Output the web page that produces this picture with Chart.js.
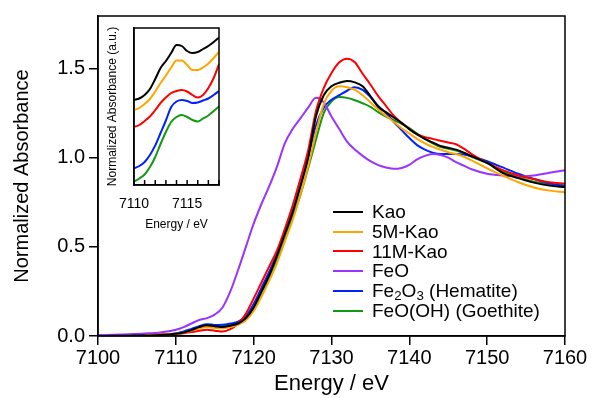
<!DOCTYPE html>
<html>
<head>
<meta charset="utf-8">
<script src="https://cdn.jsdelivr.net/npm/chart.js@4.4.0/dist/chart.umd.min.js"></script>
<style>
  body { margin: 0; background: #fff; }
  #wrap { position: relative; width: 592px; height: 398px; overflow: hidden; font-family: 'Liberation Sans', Arial, sans-serif; }
  #main { position: absolute; left: 0; top: 0; }
  #inset { position: absolute; left: 100px; top: 20px; }
  #legend { position: absolute; left: 333px; top: 202px; font-size: 19px; color: #000; }
  .row { display: flex; align-items: center; white-space: nowrap; height: 19.8px; }
  .swatch { width: 30px; height: 2px; margin-right: 9px; }
  sub { font-size: 0.7em; vertical-align: -0.25em; line-height: 0; }
</style>
</head>
<body>
<div id="wrap">
  <canvas id="main" width="592" height="398"></canvas>
  <canvas id="inset" width="130" height="220"></canvas>
  <div id="legend"></div>
</div>
<script>
// main chart data (normalized absorbance vs energy / eV)
const energy = [7100, 7102, 7104, 7106, 7108,
  7110, 7111, 7112, 7113, 7114, 7115, 7116, 7117, 7118, 7119,
  7120, 7121, 7122, 7123, 7124, 7125, 7126, 7127, 7128, 7129,
  7130, 7131, 7132, 7133, 7134, 7135, 7136, 7137, 7138, 7139,
  7140, 7141, 7142, 7143, 7144, 7145, 7146, 7147, 7148,
  7150, 7152, 7154, 7156, 7158, 7160];

const kao = [0.0, 0.001, 0.002, 0.003, 0.005,
  0.012, 0.02, 0.033, 0.05, 0.06, 0.055, 0.05, 0.058, 0.07, 0.10,
  0.16, 0.25, 0.34, 0.45, 0.57, 0.69, 0.84, 1.00, 1.23, 1.35,
  1.40, 1.42, 1.43, 1.422, 1.40, 1.345, 1.285, 1.255, 1.225, 1.195,
  1.16, 1.13, 1.105, 1.085, 1.065, 1.055, 1.045, 1.028, 1.008,
  0.97, 0.915, 0.885, 0.86, 0.843, 0.835];

const kao5M = [null, null, null, 0.004, 0.007,
  0.012, 0.02, 0.03, 0.042, 0.05, 0.045, 0.043, 0.05, 0.062, 0.088,
  0.14, 0.22, 0.31, 0.41, 0.53, 0.65, 0.79, 0.95, 1.14, 1.30,
  1.375, 1.40, 1.395, 1.38, 1.35, 1.31, 1.27, 1.235, 1.20, 1.165,
  1.135, 1.105, 1.08, 1.06, 1.045, 1.03, 1.02, 1.005, 0.985,
  0.94, 0.90, 0.862, 0.833, 0.815, 0.805];

const kao11M = [null, null, null, 0.005, 0.008,
  0.012, 0.016, 0.022, 0.03, 0.035, 0.03, 0.025, 0.038, 0.07, 0.125,
  0.21, 0.30, 0.39, 0.48, 0.60, 0.73, 0.88, 1.04, 1.26, 1.39,
  1.475, 1.535, 1.555, 1.535, 1.47, 1.41, 1.345, 1.29, 1.235, 1.195,
  1.16, 1.13, 1.115, 1.105, 1.095, 1.085, 1.075, 1.05, 1.02,
  0.97, 0.93, 0.90, 0.88, 0.862, 0.855];

const feo = [0.005, 0.007, 0.01, 0.014, 0.02,
  0.035, 0.05, 0.07, 0.09, 0.10, 0.12, 0.16, 0.25, 0.37, 0.50,
  0.63, 0.74, 0.84, 0.95, 1.08, 1.16, 1.22, 1.28, 1.335, 1.31,
  1.23, 1.16, 1.09, 1.045, 1.01, 0.98, 0.958, 0.945, 0.937, 0.942,
  0.96, 0.99, 1.01, 1.02, 1.015, 1.0, 0.975, 0.955, 0.935,
  0.91, 0.90, 0.895, 0.90, 0.915, 0.93];

const hematite = [0.0, 0.002, 0.003, 0.005, 0.007,
  0.014, 0.025, 0.04, 0.055, 0.066, 0.062, 0.063, 0.07, 0.08, 0.11,
  0.18, 0.27, 0.36, 0.46, 0.58, 0.70, 0.84, 1.00, 1.18, 1.28,
  1.325, 1.35, 1.375, 1.395, 1.38, 1.34, 1.29, 1.25, 1.20, 1.155,
  1.11, 1.07, 1.045, 1.028, 1.02, 1.02, 1.02, 1.017, 1.008,
  0.98, 0.945, 0.91, 0.88, 0.855, 0.84];

const goethite = [0.0, 0.001, 0.002, 0.004, 0.006,
  0.012, 0.022, 0.036, 0.05, 0.06, 0.056, 0.055, 0.063, 0.074, 0.10,
  0.155, 0.235, 0.325, 0.425, 0.54, 0.66, 0.79, 0.94, 1.10, 1.25,
  1.315, 1.34, 1.335, 1.322, 1.305, 1.285, 1.255, 1.23, 1.21, 1.19,
  1.165, 1.135, 1.105, 1.08, 1.06, 1.05, 1.04, 1.025, 1.005,
  0.97, 0.925, 0.89, 0.865, 0.85, 0.845];

const xTicks = [7100, 7110, 7120, 7130, 7140, 7150, 7160];
const yTicks = [0, 0.5, 1.0, 1.5];

// inset: pre-edge region, curves offset (a.u.)
const insetEnergy = [7110, 7110.5, 7111, 7111.5, 7112, 7112.5, 7113, 7113.5, 7114,
  7114.5, 7115, 7115.5, 7116, 7116.5, 7117, 7117.5, 7118];
const insetKao = [0.83, 0.845, 0.88, 0.94, 1.04, 1.15, 1.22, 1.30, 1.38, 1.37, 1.32, 1.30, 1.31, 1.34, 1.37, 1.41, 1.455];
const inset5M = [0.73, 0.75, 0.79, 0.84, 0.915, 1.00, 1.075, 1.155, 1.225, 1.225, 1.18, 1.13, 1.13, 1.155, 1.195, 1.25, 1.31];
const inset11M = [0.56, 0.58, 0.62, 0.665, 0.73, 0.80, 0.855, 0.90, 0.92, 0.93, 0.915, 0.88, 0.855, 0.88, 0.95, 1.05, 1.19];
const insetHematite = [0.147, 0.17, 0.21, 0.28, 0.376, 0.50, 0.625, 0.76, 0.815, 0.83, 0.82, 0.80, 0.805, 0.825, 0.845, 0.88, 0.92];
const insetGoethite = [0.013, 0.045, 0.085, 0.16, 0.26, 0.39, 0.51, 0.61, 0.66, 0.68, 0.66, 0.63, 0.615, 0.645, 0.675, 0.72, 0.765];
const insetTicks = [7110, 7111, 7112, 7113, 7114, 7115, 7116, 7117, 7118];
const insetTickLabels = [7110, 7115];

const names = ['Kao', '5M-Kao', '11M-Kao', 'FeO', 'Fe2O3 (Hematite)', 'FeO(OH) (Goethite)'];
const colors = ['#000000', '#FFA500', '#FF0000', '#9933FF', '#0022FF', '#119911'];

const FONT = "'Liberation Sans', Arial, sans-serif";

function pts(xs, ys) {
  return xs.map((x, i) => ({ x: x, y: ys[i] }));
}

// box round the plot area
const frame = {
  id: 'frame',
  afterDatasetsDraw(chart) {
    const a = chart.chartArea, ctx = chart.ctx;
    ctx.save();
    ctx.strokeStyle = '#000';
    ctx.lineWidth = 1.5;
    ctx.strokeRect(a.left, a.top, a.right - a.left, a.bottom - a.top);
    ctx.restore();
  }
};

// inset has its ticks pointing in
const innerTicks = {
  id: 'innerTicks',
  afterDraw(chart) {
    const s = chart.scales.x, a = chart.chartArea, ctx = chart.ctx;
    ctx.save();
    ctx.strokeStyle = '#000';
    ctx.lineWidth = 1.5;
    s.ticks.forEach(t => {
      const px = s.getPixelForValue(t.value);
      ctx.beginPath();
      ctx.moveTo(px, a.bottom);
      ctx.lineTo(px, a.bottom - 5);
      ctx.stroke();
    });
    ctx.restore();
  }
};

const mainSeries = [kao, kao5M, kao11M, feo, hematite, goethite];

new Chart(document.getElementById('main'), {
  type: 'line',
  data: {
    datasets: mainSeries.map((vals, i) => ({
      label: names[i],
      data: pts(energy, vals),
      borderColor: colors[i],
      borderWidth: 2,
      pointRadius: 0,
      cubicInterpolationMode: 'monotone',
      fill: false
    }))
  },
  options: {
    responsive: false,
    animation: false,
    layout: { padding: { top: 13, right: 27, left: 0, bottom: 0 } },
    plugins: { legend: { display: false }, tooltip: { enabled: false } },
    scales: {
      x: {
        type: 'linear',
        min: 7100,
        max: 7160,
        afterBuildTicks: s => { s.ticks = xTicks.map(v => ({ value: v })); },
        afterFit: s => { s.height = 62; },
        ticks: { color: '#000', font: { family: FONT, size: 20 }, padding: 1, maxRotation: 0, callback: v => String(v) },
        grid: { display: true, drawOnChartArea: false, drawTicks: true, tickLength: 9, color: '#000', lineWidth: 1.5 },
        border: { display: true, color: '#000', width: 1.5 },
        title: { display: true, text: 'Energy / eV', color: '#000', font: { family: FONT, size: 22 }, padding: { top: 0, bottom: 1 } }
      },
      y: {
        min: 0,
        max: 1.794,
        afterBuildTicks: s => { s.ticks = yTicks.map(v => ({ value: v })); },
        afterFit: s => { s.width = 98; },
        ticks: { color: '#000', font: { family: FONT, size: 20 }, padding: 4, callback: v => v.toFixed(1) },
        grid: { display: true, drawOnChartArea: false, drawTicks: true, tickLength: 9, color: '#000', lineWidth: 1.5 },
        border: { display: true, color: '#000', width: 1.5 },
        title: { display: true, text: 'Normalized Absorbance', color: '#000', font: { family: FONT, size: 20 }, padding: { top: 10, bottom: 0 } }
      }
    }
  },
  plugins: [frame]
});

const insetSeries = [insetKao, inset5M, inset11M, insetHematite, insetGoethite];
const insetColors = [colors[0], colors[1], colors[2], colors[4], colors[5]];

new Chart(document.getElementById('inset'), {
  type: 'line',
  data: {
    datasets: insetSeries.map((vals, i) => ({
      data: pts(insetEnergy, vals),
      borderColor: insetColors[i],
      borderWidth: 2,
      pointRadius: 0,
      cubicInterpolationMode: 'monotone',
      fill: false
    }))
  },
  options: {
    responsive: false,
    animation: false,
    layout: { padding: { top: 8, right: 7, left: 0, bottom: 0 } },
    plugins: { legend: { display: false }, tooltip: { enabled: false } },
    scales: {
      x: {
        type: 'linear',
        min: 7110,
        max: 7118,
        afterBuildTicks: s => { s.ticks = insetTicks.map(v => ({ value: v })); },
        afterFit: s => { s.height = 55; },
        ticks: {
          color: '#000', font: { family: FONT, size: 14 }, padding: 11, autoSkip: false, maxRotation: 0,
          callback: v => insetTickLabels.includes(v) ? String(v) : ''
        },
        grid: { display: false, drawTicks: false },
        border: { display: true, color: '#000', width: 1.5 },
        title: { display: true, text: 'Energy / eV', color: '#000', font: { family: FONT, size: 12 }, padding: { top: 0, bottom: 8 } }
      },
      y: {
        min: -0.02,
        max: 1.55,
        afterFit: s => { s.width = 34; },
        ticks: { display: false },
        grid: { display: false, drawTicks: false },
        border: { display: true, color: '#000', width: 1.5 },
        title: { display: true, text: 'Normalized Absorbance (a.u.)', color: '#000', font: { family: FONT, size: 12 }, padding: { top: 5, bottom: 0 } }
      }
    }
  },
  plugins: [frame, innerTicks]
});

// legend, drawn as html so the subscripts stay real text
const legend = document.getElementById('legend');
names.forEach((name, i) => {
  const row = document.createElement('div');
  row.className = 'row';
  const sw = document.createElement('span');
  sw.className = 'swatch';
  sw.style.background = colors[i];
  const txt = document.createElement('span');
  txt.innerHTML = name.replace(/Fe2O3/, 'Fe<sub>2</sub>O<sub>3</sub>');
  row.appendChild(sw);
  row.appendChild(txt);
  legend.appendChild(row);
});
</script>
</body>
</html>
